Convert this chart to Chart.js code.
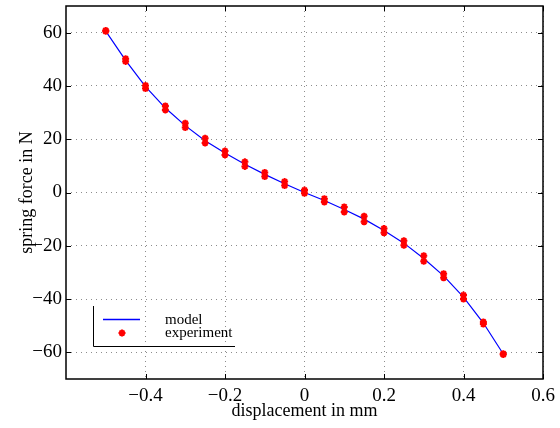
<!DOCTYPE html>
<html>
<head>
<meta charset="utf-8">
<script src="https://cdn.jsdelivr.net/npm/chart.js@4/dist/chart.umd.min.js"></script>
<style>
html,body{margin:0;padding:0;background:#fff;}
#wrap{width:560px;height:428px;position:relative;}
</style>
</head>
<body>
<div id="wrap"><canvas id="c" width="560" height="428"></canvas></div>
<script>
// ---- data ----
const displacement = [-0.5,-0.45,-0.4,-0.35,-0.3,-0.25,-0.2,-0.15,-0.1,-0.05,0,0.05,0.1,0.15,0.2,0.25,0.3,0.35,0.4,0.45,0.5];
const modelForce = [60.6,49.6,39.7,31.7,25.1,19.4,14.8,10.6,6.8,3.3,0,-3.0,-6.4,-10.0,-14.3,-19.0,-24.8,-31.3,-39.3,-49.0,-60.6];
const experimentRun1 = [60.8,50.2,40.2,32.5,26.0,20.4,15.6,11.5,7.5,4.1,0.9,-2.3,-5.4,-8.9,-13.5,-18.1,-23.7,-30.5,-38.5,-48.6,-60.5];
const experimentRun2 = [60.5,49.2,39.0,31.0,24.4,18.6,14.1,9.8,6.0,2.6,-0.3,-3.6,-7.3,-11.0,-15.1,-19.8,-25.8,-32.0,-40.0,-49.4,-60.8];
const xTicks = [-0.4,-0.2,0,0.2,0.4,0.6];
const yTicks = [-60,-40,-20,0,20,40,60];
const xTitle = 'displacement in mm';
const yTitle = 'spring force in N';
const seriesNames = ['model','experiment'];

const FONT = "'Liberation Serif','Times New Roman',serif";

const modelData = displacement.map((x,i)=>({x, y: modelForce[i]}));
const expData = displacement.map((x,i)=>({x, y: experimentRun1[i]}))
  .concat(displacement.map((x,i)=>({x, y: experimentRun2[i]})));

function fmt(v){
  const s = (Math.round(v*10)/10).toString();
  return v < 0 ? '\u2212' + s.slice(1) : s;
}

const decor = {
  id: 'decor',
  afterDraw(chart){
    const {ctx, chartArea: a, scales} = chart;
    ctx.save();
    // box
    ctx.strokeStyle = '#000';
    ctx.lineWidth = 1.5;
    ctx.setLineDash([]);
    ctx.strokeRect(a.left, a.top, a.right - a.left, a.bottom - a.top);
    // inward ticks
    ctx.lineWidth = 1;
    const tl = 5;
    ctx.beginPath();
    xTicks.forEach(v=>{
      const px = Math.round(scales.x.getPixelForValue(v)) + 0.5;
      ctx.moveTo(px, a.bottom); ctx.lineTo(px, a.bottom - tl);
      ctx.moveTo(px, a.top); ctx.lineTo(px, a.top + tl);
    });
    yTicks.forEach(v=>{
      const py = Math.round(scales.y.getPixelForValue(v)) + 0.5;
      ctx.moveTo(a.left, py); ctx.lineTo(a.left + tl, py);
      ctx.moveTo(a.right, py); ctx.lineTo(a.right - tl, py);
    });
    ctx.stroke();
    // axis titles
    ctx.fillStyle = '#000';
    ctx.font = '18px ' + FONT;
    ctx.textAlign = 'center';
    ctx.textBaseline = 'middle';
    ctx.fillText(xTitle, (a.left + a.right)/2, 411);
    ctx.save();
    ctx.translate(27, (a.top + a.bottom)/2);
    ctx.rotate(-Math.PI/2);
    ctx.fillText(yTitle, 0, 0);
    ctx.restore();
    // legend (MATLAB style, only left and bottom edges visible)
    const L = 93, T = 306, R = 235, B = 346;
    ctx.strokeStyle = '#000';
    ctx.lineWidth = 1;
    ctx.beginPath();
    ctx.moveTo(L + 0.5, T); ctx.lineTo(L + 0.5, B + 0.5); ctx.lineTo(R, B + 0.5);
    ctx.stroke();
    ctx.strokeStyle = '#0000ff';
    ctx.lineWidth = 1.3;
    ctx.beginPath();
    ctx.moveTo(103, 319.5); ctx.lineTo(140, 319.5);
    ctx.stroke();
    ctx.strokeStyle = '#ff0000';
    ctx.fillStyle = '#ff0000';
    ctx.lineWidth = 2;
    Chart.helpers.drawPoint(ctx, {pointStyle: 'star', radius: 3.5, borderWidth: 2}, 122, 333);
    ctx.font = '15px ' + FONT;
    ctx.textAlign = 'left';
    ctx.fillStyle = '#000';
    ctx.fillText(seriesNames[0], 165, 320);
    ctx.fillText(seriesNames[1], 165, 333);
    ctx.restore();
  }
};

new Chart(document.getElementById('c'), {
  type: 'scatter',
  data: {
    datasets: [
      {label: seriesNames[0], data: modelData, showLine: true, borderColor: '#0000ff', borderWidth: 1.2,
       pointRadius: 0, pointHoverRadius: 0, fill: false, tension: 0, order: 2},
      {label: seriesNames[1], data: expData, showLine: false, pointStyle: 'star', pointRadius: 3.5,
       borderColor: '#ff0000', backgroundColor: '#ff0000', pointBorderWidth: 2, order: 1}
    ]
  },
  options: {
    responsive: false,
    animation: false,
    devicePixelRatio: 1,
    layout: {padding: {left: 0, right: 17, top: 3, bottom: 0}},
    plugins: {legend: {display: false}, tooltip: {enabled: false}, title: {display: false}},
    scales: {
      x: {
        type: 'linear', min: -0.6, max: 0.6,
        afterBuildTicks: s => { s.ticks = xTicks.map(v=>({value: v})); },
        afterFit: s => { s.height = 49; s.paddingLeft = 0; s.paddingRight = 0; },
        grid: {color: '#8c8c8c', lineWidth: 1, drawTicks: false},
        border: {display: false, dash: [1,4]},
        ticks: {padding: 6, color: '#000', font: {family: FONT, size: 19}, maxRotation: 0, autoSkip: false,
                callback: v => fmt(v)}
      },
      y: {
        type: 'linear', min: -70, max: 70,
        afterBuildTicks: s => { s.ticks = yTicks.map(v=>({value: v})); },
        afterFit: s => { s.width = 66; s.paddingTop = 0; s.paddingBottom = 0; },
        grid: {color: '#8c8c8c', lineWidth: 1, drawTicks: false},
        border: {display: false, dash: [1,4]},
        ticks: {padding: 4, color: '#000', font: {family: FONT, size: 19}, autoSkip: false,
                callback: v => fmt(v)}
      }
    }
  },
  plugins: [decor]
});
</script>
</body>
</html>
